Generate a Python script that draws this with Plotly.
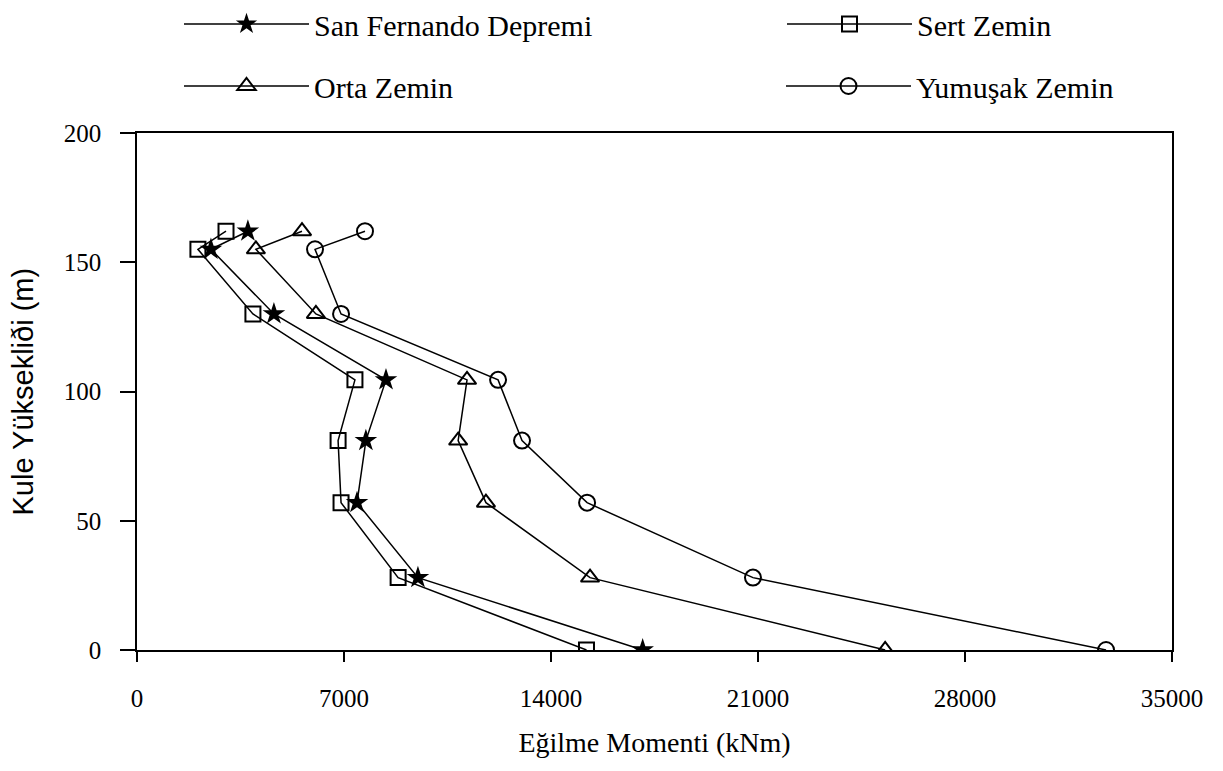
import plotly.graph_objects as go

heights = [0, 28, 57, 81, 104.5, 130, 155, 162]

san_fernando = [17100, 9500, 7440, 7740, 8420, 4630, 2500, 3750]
sert = [15200, 8830, 6900, 6800, 7370, 3920, 2060, 3010]
orta = [25300, 15320, 11800, 10860, 11160, 6050, 4020, 5580]
yumusak = [32770, 20830, 15220, 13020, 12210, 6900, 6020, 7710]

names = ["San Fernando Depremi", "Sert Zemin", "Orta Zemin", "Yumuşak Zemin"]
series = [san_fernando, sert, orta, yumusak]
symbols = ["star", "square-open", "triangle-up-open", "circle-open"]
sizes = [17, 15, 16, 16]
legend_ids = ["legend2", "legend3", "legend4", "legend5"]
# legend anchor positions in figure pixels (left, center-y)
legend_pos = [(171, 16), (774, 16), (171, 78), (773, 78)]

x_ticks = [0, 7000, 14000, 21000, 28000, 35000]
y_ticks = [0, 50, 100, 150, 200]

serif = "Liberation Serif"
sans = "Liberation Sans"

fig = go.Figure()
for name, vals, sym, sz, lg in zip(names, series, symbols, sizes, legend_ids):
    fig.add_trace(go.Scatter(
        x=vals, y=heights, name=name, mode="lines+markers",
        line=dict(color="black", width=1.5),
        marker=dict(symbol=sym, size=sz, color="black",
                    line=dict(color="black", width=2 if sym != "star" else 0)),
        legend=lg,
    ))

legend_layout = {}
for lg, (px, py) in zip(legend_ids, legend_pos):
    legend_layout[lg] = dict(
        xref="container", yref="container",
        x=px / 1223, y=1 - py / 771, xanchor="left", yanchor="middle",
        font=dict(family=serif, size=30, color="black"),
        itemwidth=125, bgcolor="rgba(0,0,0,0)",
    )

fig.update_layout(
    width=1223, height=771,
    margin=dict(l=129, r=59, t=125, b=129, autoexpand=False),
    plot_bgcolor="white", paper_bgcolor="white",
    **legend_layout,
    xaxis=dict(
        range=[0, 35000], tickvals=x_ticks, ticktext=[str(v) for v in x_ticks],
        showgrid=False, zeroline=False, showline=True, linecolor="black", linewidth=1.5,
        mirror=True, ticks="outside", ticklen=10, tickwidth=1.5, tickcolor="black",
        ticklabelstandoff=15,
        tickfont=dict(family=serif, size=25, color="black"),
        title=dict(text="Eğilme Momenti (kNm)", font=dict(family=serif, size=28, color="black"), standoff=22),
    ),
    yaxis=dict(
        range=[0, 200], tickvals=y_ticks,
        showgrid=False, zeroline=False, showline=True, linecolor="black", linewidth=1.5,
        mirror=True, ticks="outside", ticklen=15, tickwidth=1.5, tickcolor="black",
        ticklabelstandoff=14,
        tickfont=dict(family=serif, size=25, color="black"),
    ),
    annotations=[dict(
        text="Kule Yüksekliði (m)", textangle=-90, showarrow=False,
        xref="paper", yref="paper", x=-115 / 1035, y=0.5,
        xanchor="center", yanchor="middle",
        font=dict(family=sans, size=29, color="black"),
    )],
)

fig.write_html("out.html")
